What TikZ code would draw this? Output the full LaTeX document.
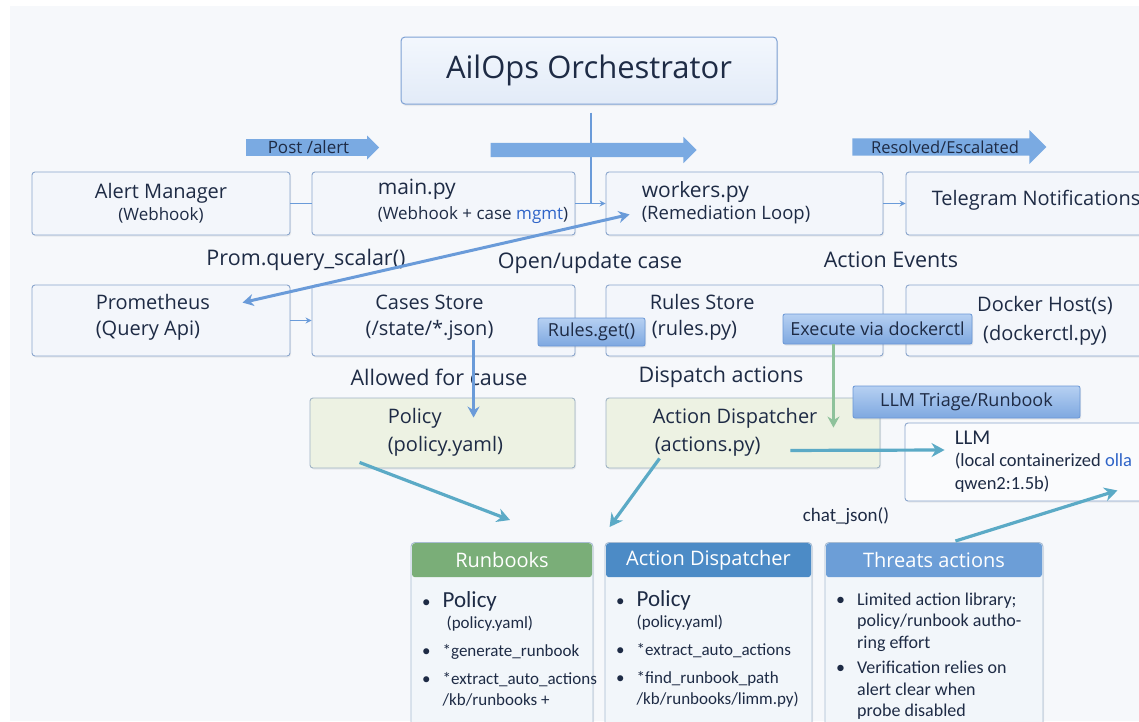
\documentclass[tikz,border=0pt]{standalone}
\usepackage{fontspec}
\setmainfont{Open Sans}
\newfontfamily\calfont{Carlito}
\usetikzlibrary{calc,arrows.meta,shapes.arrows,shadows}

\definecolor{ink}{HTML}{1E2B45}
\definecolor{pagebg}{HTML}{F6F8FB}
\definecolor{boxfill}{HTML}{F3F6FB}
\definecolor{boxline}{HTML}{8AA5CC}
\definecolor{orchtop}{HTML}{F3F7FD}
\definecolor{orchbot}{HTML}{E2EBF8}
\definecolor{orchline}{HTML}{7EA1D4}
\definecolor{greenfill}{HTML}{EDF2E3}
\definecolor{greenline}{HTML}{9FB3C4}
\definecolor{arrowblue}{HTML}{7AAAE2}
\definecolor{tagtop}{HTML}{B6D0F2}
\definecolor{tagbot}{HTML}{7EA8E0}
\definecolor{tagline}{HTML}{6A97D6}
\definecolor{linkblue}{HTML}{6A9BD9}
\definecolor{linkgreen}{HTML}{8EC29B}
\definecolor{teal}{HTML}{5BAAC6}
\definecolor{hdrgreen}{HTML}{7AAE78}
\definecolor{hdrblue}{HTML}{4C8BC6}
\definecolor{hdrsky}{HTML}{6C9ED7}
\definecolor{cardfill}{HTML}{F2F6FA}
\definecolor{cardline}{HTML}{A8BCD2}
\definecolor{wordblue}{HTML}{2F64C8}

\newcommand{\subtxt}[1]{{\fontsize{17}{20}\selectfont #1}}

\tikzset{
  box/.style={draw=boxline, fill=boxfill, rounded corners=3pt, line width=0.9pt,
    drop shadow={shadow xshift=1pt, shadow yshift=-1.5pt, opacity=0.12}},
  greenbox/.style={box, draw=greenline, fill=greenfill},
  orchbox/.style={draw=orchline, top color=orchtop, bottom color=orchbot,
    rounded corners=4pt, line width=1pt, text=ink, font=\fontsize{31}{34}\selectfont,
    drop shadow={shadow xshift=1pt, shadow yshift=-2pt, opacity=0.12}},
  txt/.style={text=ink, font=\fontsize{20}{23}\selectfont, align=left, inner sep=0pt},
  flowlbl/.style={text=ink, font=\fontsize{21.5}{24}\selectfont, inner sep=0pt},
  tag/.style={draw=tagline, top color=tagtop, bottom color=tagbot, rounded corners=2pt,
    text=ink, font=\fontsize{18}{21}\selectfont, inner sep=0pt, line width=0.8pt,
    drop shadow={shadow xshift=1pt, shadow yshift=-1.5pt, opacity=0.15}},
  flowarrow/.style={single arrow, fill=arrowblue, text=ink, inner sep=0pt,
    single arrow head indent=0pt},
  link/.style={draw=linkblue, line width=1.6pt},
  thick link/.style={draw=linkblue, line width=3pt, -{Stealth[length=11pt,width=12pt]}},
  green link/.style={draw=linkgreen, line width=3pt, -{Stealth[length=11pt,width=12pt]}},
  teal link/.style={draw=teal, line width=3.2pt, -{Stealth[length=13pt,width=14pt]}},
  card/.style={draw=cardline, fill=cardfill, rounded corners=4pt, line width=0.9pt,
    drop shadow={shadow xshift=1pt, shadow yshift=-1.5pt, opacity=0.12}},
  cardhead/.style={rounded corners=3pt, text=white, font=\fontsize{20}{23}\selectfont,
    inner sep=0pt},
  cardtxt/.style={text=ink, font=\calfont\fontsize{17}{21}\selectfont, inner sep=0pt}
}

\begin{document}
\begin{tikzpicture}[x=1pt,y=-1pt]
  \fill[white] (0,0) rectangle (1139,721);
  \fill[pagebg] (10,6) rectangle (1139,721);
  \useasboundingbox (0,0) rectangle (1139,721);

  % orchestrator and top flow
  \node[orchbox, minimum width=376pt, minimum height=67pt] (orch) at (589,70.5) {AilOps Orchestrator};

  % first row
  \node[box, minimum width=258pt, minimum height=63pt] (alert) at (161,203.5) {};
  \node[box, minimum width=263pt, minimum height=63pt] (main) at (443.5,203.5) {};
  \node[box, minimum width=277pt, minimum height=63pt] (workers) at (744.5,203.5) {};
  \node[box, minimum width=250pt, minimum height=63pt] (telegram) at (1031,203.5) {};

  \node[txt, align=center] (alert-t) at (alert) {Alert Manager\\[-1pt]\subtxt{(Webhook)}};
  \node[txt, anchor=west, font=\fontsize{21}{23}\selectfont] (main-t) at ($(main.west)+(66,-2)$)
    {main.py\\[2pt]\subtxt{(Webhook + case \textcolor{wordblue}{mgmt})}};
  \node[txt, anchor=west, font=\fontsize{21}{23}\selectfont] (workers-t) at ($(workers.west)+(36,-1)$)
    {workers.py\\[-1pt]{\fontsize{18.5}{21}\selectfont (Remediation Loop)}};
  \node[txt, anchor=west] (telegram-t) at ($(telegram.west)+(26,-3)$) {Telegram Notifications};

  \coordinate (jn) at (orch.south |- workers.west);
  \draw[link] ($(orch.south)+(2,8)$) -- ($(jn)+(2,0)$);
  \draw[link] (alert.east) -- (main.west);
  \draw[link, -{Stealth[length=6pt,width=6pt]}] (main.east) -- (workers.west);
  \draw[link, -{Stealth[length=6pt,width=6pt]}] (workers.east) -- (telegram.west);

  \node[flowarrow, inner ysep=7pt, minimum height=206pt, minimum width=26pt, single arrow head extend=6pt] (fanout) at (590,150) {};
  \node[flowarrow, minimum height=133pt, minimum width=24pt, single arrow head extend=3pt,
        font=\fontsize{17}{20}\selectfont] (post) at (308.5,147.5) {Post /alert\hspace{12pt}};
  \node[flowarrow, inner ysep=1.5pt, minimum height=194pt, minimum width=34pt, single arrow head extend=8pt,
        font=\fontsize{16.5}{20}\selectfont] (resolved) at (945,147) {Resolved/Escalated\hspace{18pt}};

  % flow labels
  \node[flowlbl] (lbl-prom) at (306,260) {Prom.query\_scalar()};
  \node[flowlbl] (lbl-case) at (590,263) {Open/update case};
  \node[flowlbl] (lbl-events) at (891,260) {Action Events};

  % second row
  \node[box, minimum width=258pt, minimum height=71pt] (prom) at (161,320.5) {};
  \node[box, minimum width=263pt, minimum height=71pt] (cases) at (443.5,320.5) {};
  \node[box, minimum width=277pt, minimum height=71pt] (rules) at (744.5,320.5) {};
  \node[box, minimum width=250pt, minimum height=71pt] (docker) at (1031,320.5) {};

  \node[txt, anchor=west] (prom-t) at ($(prom.west)+(64,-3)$) {Prometheus\\[3pt](Query Api)};
  \node[txt, align=center] (cases-t) at ($(cases.center)+(-14,-3)$) {Cases Store\\[3pt](/state/*.json)};
  \node[txt, anchor=west] (rules-t) at ($(rules.west)+(44,-3)$) {Rules Store\\[3pt]\hspace{2pt}(rules.py)};
  \node[txt, align=center] (docker-t) at ($(docker.center)+(14,0)$) {Docker Host(s)\\[6pt](dockerctl.py)};

  \draw[link, -{Stealth[length=6pt,width=6pt]}] (prom.east) -- (cases.west);

  % long query arrow
  \draw[thick link, {Stealth[length=11pt,width=12pt]}-{Stealth[length=11pt,width=12pt]}]
    ($(workers.south west)+(24,-21)$) -- ($(prom.north west)+(211,18)$);

  \node[tag, minimum width=107pt, minimum height=28pt] (rulesget) at (591.5,332) {Rules.get()};
  \node[tag, minimum width=189pt, minimum height=30pt] (execute) at (877.5,329) {Execute via dockerctl};

  \node[flowlbl] (lbl-allowed) at (439,377) {Allowed for cause};
  \node[flowlbl] (lbl-dispatch) at (721,377) {Dispatch actions};

  % third row
  \node[greenbox, minimum width=265pt, minimum height=70pt] (policy) at (442.5,433) {};
  \node[greenbox, minimum width=274pt, minimum height=70pt] (action) at (743,433) {};
  \node[box, fill=white!60!boxfill, minimum width=250pt, minimum height=78pt] (llm) at (1030,462) {};

  \node[txt, anchor=west] (policy-t) at ($(policy.west)+(78,-1)$) {Policy\\[5pt](policy.yaml)};
  \node[txt, anchor=west] (action-t) at ($(action.west)+(47,-1)$) {Action Dispatcher\\[5pt]\hspace{2pt}(actions.py)};
  \node[txt, anchor=west, font=\calfont\fontsize{18.5}{23}\selectfont] (llm-t) at ($(llm.west)+(50,0)$)
    {{\fontsize{21}{23}\selectfont LLM}\\[-1pt](local containerized \textcolor{wordblue}{olla}\\qwen2:1.5b)};

  \node[tag, minimum width=227pt, minimum height=32pt] (triage) at (966.5,402) {LLM Triage/Runbook};

  \draw[link, line width=3pt, -{Stealth[length=11pt,width=12pt]}] ($(cases.south west)+(162,-16)$) -- ($(policy.north west)+(164,20)$);
  \draw[green link] (execute.south -| action.east) ++(-47,0) coordinate (ex-out) -- ($(action.north east)+(-47,30)$);
  \draw[teal link] ($(action.south east)+(-90,-18)$) -- ($(llm.west)+(40,-12)$);

  % bottom cards
  \node[card, minimum width=182pt, minimum height=200pt, anchor=north] (runbooks) at (502,542) {};
  \node[card, minimum width=207pt, minimum height=200pt, anchor=north] (dispatcher) at (708.5,542) {};
  \node[card, minimum width=218pt, minimum height=200pt, anchor=north] (threats) at (934,542) {};

  \node[cardhead, fill=hdrgreen, minimum width=180pt, minimum height=34pt, anchor=north] (runbooks-h) at ($(runbooks.north)+(0,1)$) {Runbooks};
  \node[cardhead, fill=hdrblue, minimum width=205pt, minimum height=34pt, anchor=north] (dispatcher-h) at ($(dispatcher.north)+(0,1)$) {Action Dispatcher};
  \node[cardhead, fill=hdrsky, minimum width=216pt, minimum height=34pt, anchor=north] (threats-h) at ($(threats.north)+(0,1)$) {Threats actions};

  \node[cardtxt, anchor=north west] (runbooks-l) at (422,591) {%
    \begin{tabular}{@{}l@{\hspace{12pt}}l@{}}
      \textbullet & {\fontsize{23}{24}\selectfont Policy}\\
                  & \hspace{4pt}(policy.yaml)\\[7pt]
      \textbullet & *generate\_runbook\\[7pt]
      \textbullet & *extract\_auto\_actions\\
                  & /kb/runbooks +
    \end{tabular}};
  \node[cardtxt, anchor=north west] (dispatcher-l) at (616,590) {%
    \begin{tabular}{@{}l@{\hspace{12pt}}l@{}}
      \textbullet & {\fontsize{23}{24}\selectfont Policy}\\
                  & (policy.yaml)\\[7pt]
      \textbullet & *extract\_auto\_actions\\[7pt]
      \textbullet & *find\_runbook\_path\\
                  & /kb/runbooks/limm.py)
    \end{tabular}};
  \node[cardtxt, anchor=north west, font=\calfont\fontsize{18}{21.5}\selectfont] (threats-l) at (836,590) {%
    \begin{tabular}{@{}l@{\hspace{12pt}}l@{}}
      \textbullet & Limited action library;\\
                  & policy/runbook autho-\\
                  & ring effort\\[4pt]
      \textbullet & Verification relies on\\
                  & alert clear when\\
                  & probe disabled
    \end{tabular}};

  \node[cardtxt, font=\calfont\fontsize{19}{22}\selectfont] (lbl-chat) at (846,516) {chat\_json()};

  \draw[teal link] ($(policy.south west)+(50,-6)$) -- ($(runbooks.north)+(8,-22)$);
  \draw[teal link] ($(action.south west)+(54,-10)$) -- ($(dispatcher.north west)+(5,-15)$);
  \draw[teal link] ($(threats.north east)+(-88,-1)$) -- ($(llm.south east)+(-38,-11)$);
\end{tikzpicture}
\end{document}
